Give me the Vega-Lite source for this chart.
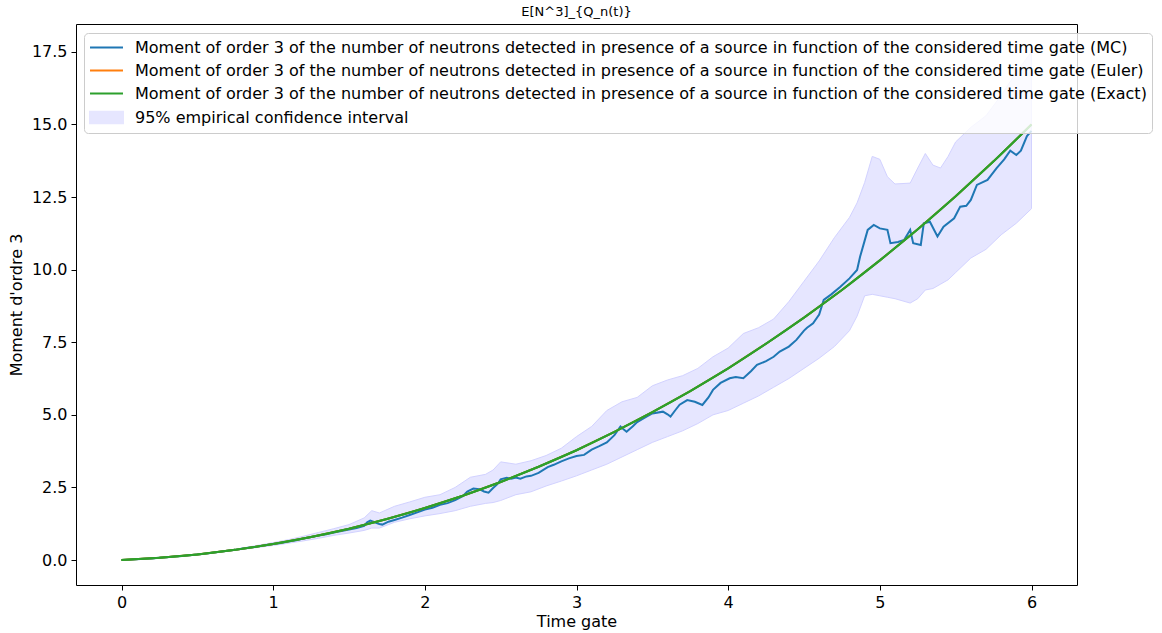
{
  "$schema": "https://vega.github.io/schema/vega-lite/v6.json",
  "autosize": {"type": "none"},
  "padding": {"left": 76, "top": 24, "right": 85, "bottom": 48},
  "width": 1001,
  "height": 561,
  "background": "white",
  "title": {"text": "E[N^3]_{Q_n(t)}", "font": "DejaVu Sans", "fontSize": 13, "fontWeight": "normal", "color": "black", "anchor": "middle", "frame": "group", "baseline": "alphabetic", "offset": -5},
  "config": {
    "font": "DejaVu Sans",
    "view": {"stroke": "black", "strokeWidth": 1},
    "axis": {"grid": false, "domain": false, "tickColor": "black", "tickSize": 5, "tickWidth": 1, "labelColor": "black", "labelFont": "DejaVu Sans", "labelFontSize": 16, "labelPadding": 4, "titleFont": "DejaVu Sans", "titleFontSize": 16, "titleFontWeight": "normal", "titleColor": "black"}
  },
  "datasets": {
    "lines": [
      {"t":0,"v":0,"s":"MC"},{"t":0.05,"v":0.012,"s":"MC"},{"t":0.1,"v":0.025,"s":"MC"},{"t":0.15,"v":0.04,"s":"MC"},{"t":0.2,"v":0.055,"s":"MC"},{"t":0.25,"v":0.075,"s":"MC"},{"t":0.3,"v":0.095,"s":"MC"},{"t":0.35,"v":0.118,"s":"MC"},{"t":0.4,"v":0.14,"s":"MC"},{"t":0.45,"v":0.165,"s":"MC"},{"t":0.5,"v":0.192,"s":"MC"},{"t":0.55,"v":0.22,"s":"MC"},{"t":0.6,"v":0.25,"s":"MC"},{"t":0.65,"v":0.285,"s":"MC"},{"t":0.7,"v":0.32,"s":"MC"},{"t":0.75,"v":0.35,"s":"MC"},{"t":0.8,"v":0.395,"s":"MC"},{"t":0.85,"v":0.43,"s":"MC"},{"t":0.9,"v":0.47,"s":"MC"},{"t":0.95,"v":0.51,"s":"MC"},{"t":1.0,"v":0.55,"s":"MC"},{"t":1.05,"v":0.59,"s":"MC"},{"t":1.1,"v":0.64,"s":"MC"},{"t":1.15,"v":0.68,"s":"MC"},{"t":1.2,"v":0.74,"s":"MC"},{"t":1.25,"v":0.79,"s":"MC"},{"t":1.3,"v":0.84,"s":"MC"},{"t":1.35,"v":0.89,"s":"MC"},{"t":1.4,"v":0.95,"s":"MC"},{"t":1.45,"v":1.0,"s":"MC"},{"t":1.5,"v":1.05,"s":"MC"},{"t":1.55,"v":1.1,"s":"MC"},{"t":1.6,"v":1.18,"s":"MC"},{"t":1.62,"v":1.3,"s":"MC"},{"t":1.64,"v":1.36,"s":"MC"},{"t":1.67,"v":1.3,"s":"MC"},{"t":1.7,"v":1.24,"s":"MC"},{"t":1.72,"v":1.22,"s":"MC"},{"t":1.76,"v":1.32,"s":"MC"},{"t":1.8,"v":1.38,"s":"MC"},{"t":1.85,"v":1.46,"s":"MC"},{"t":1.9,"v":1.55,"s":"MC"},{"t":1.95,"v":1.64,"s":"MC"},{"t":2.0,"v":1.74,"s":"MC"},{"t":2.05,"v":1.8,"s":"MC"},{"t":2.1,"v":1.9,"s":"MC"},{"t":2.15,"v":1.96,"s":"MC"},{"t":2.2,"v":2.06,"s":"MC"},{"t":2.25,"v":2.2,"s":"MC"},{"t":2.28,"v":2.36,"s":"MC"},{"t":2.32,"v":2.46,"s":"MC"},{"t":2.36,"v":2.44,"s":"MC"},{"t":2.39,"v":2.36,"s":"MC"},{"t":2.42,"v":2.32,"s":"MC"},{"t":2.45,"v":2.48,"s":"MC"},{"t":2.48,"v":2.62,"s":"MC"},{"t":2.5,"v":2.78,"s":"MC"},{"t":2.54,"v":2.83,"s":"MC"},{"t":2.57,"v":2.8,"s":"MC"},{"t":2.6,"v":2.84,"s":"MC"},{"t":2.63,"v":2.8,"s":"MC"},{"t":2.67,"v":2.88,"s":"MC"},{"t":2.7,"v":2.9,"s":"MC"},{"t":2.75,"v":3.0,"s":"MC"},{"t":2.81,"v":3.2,"s":"MC"},{"t":2.85,"v":3.28,"s":"MC"},{"t":2.9,"v":3.4,"s":"MC"},{"t":2.95,"v":3.5,"s":"MC"},{"t":3.0,"v":3.58,"s":"MC"},{"t":3.05,"v":3.62,"s":"MC"},{"t":3.1,"v":3.8,"s":"MC"},{"t":3.15,"v":3.92,"s":"MC"},{"t":3.2,"v":4.05,"s":"MC"},{"t":3.25,"v":4.3,"s":"MC"},{"t":3.29,"v":4.6,"s":"MC"},{"t":3.31,"v":4.5,"s":"MC"},{"t":3.33,"v":4.42,"s":"MC"},{"t":3.37,"v":4.6,"s":"MC"},{"t":3.4,"v":4.75,"s":"MC"},{"t":3.45,"v":4.9,"s":"MC"},{"t":3.5,"v":5.05,"s":"MC"},{"t":3.57,"v":5.11,"s":"MC"},{"t":3.6,"v":5.02,"s":"MC"},{"t":3.62,"v":4.94,"s":"MC"},{"t":3.65,"v":5.15,"s":"MC"},{"t":3.68,"v":5.35,"s":"MC"},{"t":3.73,"v":5.51,"s":"MC"},{"t":3.78,"v":5.45,"s":"MC"},{"t":3.83,"v":5.34,"s":"MC"},{"t":3.87,"v":5.6,"s":"MC"},{"t":3.9,"v":5.86,"s":"MC"},{"t":3.95,"v":6.1,"s":"MC"},{"t":4.01,"v":6.26,"s":"MC"},{"t":4.05,"v":6.3,"s":"MC"},{"t":4.1,"v":6.26,"s":"MC"},{"t":4.15,"v":6.5,"s":"MC"},{"t":4.19,"v":6.72,"s":"MC"},{"t":4.25,"v":6.85,"s":"MC"},{"t":4.3,"v":7.0,"s":"MC"},{"t":4.34,"v":7.18,"s":"MC"},{"t":4.4,"v":7.35,"s":"MC"},{"t":4.45,"v":7.58,"s":"MC"},{"t":4.5,"v":7.9,"s":"MC"},{"t":4.52,"v":8.0,"s":"MC"},{"t":4.56,"v":8.15,"s":"MC"},{"t":4.6,"v":8.45,"s":"MC"},{"t":4.63,"v":8.96,"s":"MC"},{"t":4.68,"v":9.15,"s":"MC"},{"t":4.74,"v":9.41,"s":"MC"},{"t":4.8,"v":9.7,"s":"MC"},{"t":4.85,"v":9.99,"s":"MC"},{"t":4.87,"v":10.45,"s":"MC"},{"t":4.9,"v":11.0,"s":"MC"},{"t":4.92,"v":11.37,"s":"MC"},{"t":4.96,"v":11.54,"s":"MC"},{"t":5.0,"v":11.42,"s":"MC"},{"t":5.05,"v":11.37,"s":"MC"},{"t":5.07,"v":10.91,"s":"MC"},{"t":5.12,"v":10.95,"s":"MC"},{"t":5.16,"v":11.02,"s":"MC"},{"t":5.2,"v":11.37,"s":"MC"},{"t":5.22,"v":10.91,"s":"MC"},{"t":5.27,"v":10.85,"s":"MC"},{"t":5.29,"v":11.6,"s":"MC"},{"t":5.33,"v":11.65,"s":"MC"},{"t":5.38,"v":11.14,"s":"MC"},{"t":5.42,"v":11.48,"s":"MC"},{"t":5.49,"v":11.77,"s":"MC"},{"t":5.53,"v":12.17,"s":"MC"},{"t":5.57,"v":12.2,"s":"MC"},{"t":5.6,"v":12.4,"s":"MC"},{"t":5.64,"v":12.92,"s":"MC"},{"t":5.71,"v":13.09,"s":"MC"},{"t":5.77,"v":13.5,"s":"MC"},{"t":5.82,"v":13.8,"s":"MC"},{"t":5.86,"v":14.1,"s":"MC"},{"t":5.9,"v":13.95,"s":"MC"},{"t":5.93,"v":14.1,"s":"MC"},{"t":5.97,"v":14.6,"s":"MC"},{"t":6.0,"v":14.78,"s":"MC"},
      {"t":0,"v":0,"s":"Euler"},{"t":0.25,"v":0.0765,"s":"Euler"},{"t":0.5,"v":0.193,"s":"Euler"},{"t":0.75,"v":0.35,"s":"Euler"},{"t":1,"v":0.55,"s":"Euler"},{"t":1.25,"v":0.792,"s":"Euler"},{"t":1.5,"v":1.079,"s":"Euler"},{"t":1.75,"v":1.41,"s":"Euler"},{"t":2,"v":1.79,"s":"Euler"},{"t":2.25,"v":2.214,"s":"Euler"},{"t":2.5,"v":2.689,"s":"Euler"},{"t":2.75,"v":3.212,"s":"Euler"},{"t":3,"v":3.78,"s":"Euler"},{"t":3.25,"v":4.41,"s":"Euler"},{"t":3.5,"v":5.09,"s":"Euler"},{"t":3.75,"v":5.82,"s":"Euler"},{"t":4,"v":6.6,"s":"Euler"},{"t":4.25,"v":7.45,"s":"Euler"},{"t":4.5,"v":8.35,"s":"Euler"},{"t":4.75,"v":9.3,"s":"Euler"},{"t":5,"v":10.32,"s":"Euler"},{"t":5.25,"v":11.39,"s":"Euler"},{"t":5.5,"v":12.53,"s":"Euler"},{"t":5.75,"v":13.73,"s":"Euler"},{"t":6,"v":15.0,"s":"Euler"},
      {"t":0,"v":0,"s":"Exact"},{"t":0.25,"v":0.0765,"s":"Exact"},{"t":0.5,"v":0.193,"s":"Exact"},{"t":0.75,"v":0.35,"s":"Exact"},{"t":1,"v":0.55,"s":"Exact"},{"t":1.25,"v":0.792,"s":"Exact"},{"t":1.5,"v":1.079,"s":"Exact"},{"t":1.75,"v":1.41,"s":"Exact"},{"t":2,"v":1.79,"s":"Exact"},{"t":2.25,"v":2.214,"s":"Exact"},{"t":2.5,"v":2.689,"s":"Exact"},{"t":2.75,"v":3.212,"s":"Exact"},{"t":3,"v":3.78,"s":"Exact"},{"t":3.25,"v":4.41,"s":"Exact"},{"t":3.5,"v":5.09,"s":"Exact"},{"t":3.75,"v":5.82,"s":"Exact"},{"t":4,"v":6.6,"s":"Exact"},{"t":4.25,"v":7.45,"s":"Exact"},{"t":4.5,"v":8.35,"s":"Exact"},{"t":4.75,"v":9.3,"s":"Exact"},{"t":5,"v":10.32,"s":"Exact"},{"t":5.25,"v":11.39,"s":"Exact"},{"t":5.5,"v":12.53,"s":"Exact"},{"t":5.75,"v":13.73,"s":"Exact"},{"t":6,"v":15.0,"s":"Exact"}
    ],
    "band": [
      {"t":0,"lo":0,"hi":0},{"t":0.25,"lo":0.074,"hi":0.079},{"t":0.5,"lo":0.185,"hi":0.2},{"t":0.75,"lo":0.33,"hi":0.37},{"t":1.0,"lo":0.5,"hi":0.6},{"t":1.1,"lo":0.58,"hi":0.7},{"t":1.2,"lo":0.66,"hi":0.82},{"t":1.3,"lo":0.75,"hi":0.95},{"t":1.4,"lo":0.85,"hi":1.08},{"t":1.5,"lo":0.93,"hi":1.22},{"t":1.6,"lo":1.02,"hi":1.45},{"t":1.65,"lo":1.1,"hi":1.7},{"t":1.7,"lo":1.1,"hi":1.62},{"t":1.8,"lo":1.3,"hi":1.85},{"t":1.9,"lo":1.42,"hi":2.0},{"t":2.0,"lo":1.52,"hi":2.16},{"t":2.1,"lo":1.6,"hi":2.25},{"t":2.2,"lo":1.7,"hi":2.5},{"t":2.3,"lo":1.85,"hi":2.85},{"t":2.4,"lo":1.95,"hi":2.95},{"t":2.45,"lo":1.98,"hi":3.1},{"t":2.5,"lo":2.05,"hi":3.38},{"t":2.6,"lo":2.25,"hi":3.3},{"t":2.7,"lo":2.35,"hi":3.42},{"t":2.8,"lo":2.55,"hi":3.6},{"t":2.9,"lo":2.72,"hi":3.85},{"t":3.0,"lo":2.9,"hi":4.25},{"t":3.1,"lo":3.1,"hi":4.6},{"t":3.2,"lo":3.3,"hi":5.15},{"t":3.3,"lo":3.55,"hi":5.45},{"t":3.4,"lo":3.8,"hi":5.6},{"t":3.5,"lo":4.05,"hi":6.0},{"t":3.6,"lo":4.25,"hi":6.2},{"t":3.7,"lo":4.45,"hi":6.35},{"t":3.8,"lo":4.7,"hi":6.6},{"t":3.9,"lo":5.0,"hi":7.0},{"t":4.0,"lo":5.15,"hi":7.3},{"t":4.1,"lo":5.4,"hi":7.8},{"t":4.2,"lo":5.65,"hi":8.0},{"t":4.3,"lo":5.95,"hi":8.3},{"t":4.4,"lo":6.25,"hi":8.9},{"t":4.5,"lo":6.6,"hi":9.6},{"t":4.6,"lo":6.95,"hi":10.3},{"t":4.7,"lo":7.35,"hi":11.1},{"t":4.8,"lo":7.9,"hi":11.8},{"t":4.85,"lo":8.4,"hi":12.3},{"t":4.9,"lo":9.1,"hi":13.0},{"t":4.95,"lo":9.15,"hi":13.9},{"t":5.0,"lo":9.1,"hi":13.8},{"t":5.05,"lo":9.05,"hi":13.2},{"t":5.1,"lo":9.0,"hi":12.95},{"t":5.2,"lo":8.85,"hi":12.98},{"t":5.25,"lo":9.0,"hi":13.5},{"t":5.3,"lo":9.3,"hi":14.0},{"t":5.35,"lo":9.35,"hi":13.6},{"t":5.4,"lo":9.5,"hi":13.5},{"t":5.45,"lo":9.65,"hi":13.9},{"t":5.5,"lo":9.9,"hi":14.4},{"t":5.6,"lo":10.4,"hi":14.9},{"t":5.7,"lo":10.7,"hi":15.3},{"t":5.8,"lo":11.2,"hi":16.0},{"t":5.9,"lo":11.6,"hi":16.8},{"t":6.0,"lo":12.1,"hi":17.5}
    ]
  },
  "layer": [
    {
      "data": {"name": "band"},
      "mark": {"type": "area", "fillOpacity": 1, "stroke": "#d2d2ff", "strokeWidth": 1},
      "encoding": {
        "x": {"field": "t", "type": "quantitative"},
        "y": {"field": "lo", "type": "quantitative"},
        "y2": {"field": "hi"},
        "color": {"datum": "CI"}
      }
    },
    {
      "data": {"name": "lines"},
      "mark": {"type": "line", "strokeWidth": 2, "interpolate": "linear"},
      "encoding": {
        "x": {"field": "t", "type": "quantitative", "scale": {"domain": [-0.3, 6.3], "nice": false, "zero": false},
              "axis": {"values": [0,1,2,3,4,5,6], "format": "d", "title": "Time gate", "titlePadding": 3}},
        "y": {"field": "v", "type": "quantitative", "scale": {"domain": [-0.86, 18.46], "nice": false, "zero": false},
              "axis": {"values": [0,2.5,5,7.5,10,12.5,15,17.5], "format": ".1f", "title": "Moment d'ordre 3", "titlePadding": 7}},
        "color": {
          "field": "s", "type": "nominal",
          "scale": {"domain": ["MC", "Euler", "Exact", "CI"], "range": ["#1f77b4", "#ff7f0e", "#2ca02c", "#e6e6ff"]},
          "legend": {
            "title": null,
            "orient": "none",
            "legendX": 8,
            "legendY": 9,
            "padding": 5,
            "fillColor": "rgba(255,255,255,0.8)",
            "strokeColor": "#cccccc",
            "cornerRadius": 4,
            "labelFont": "DejaVu Sans",
            "labelFontSize": 16,
            "labelColor": "black",
            "labelLimit": 2000,
            "labelOffset": 19,
            "symbolOffset": 8,
            "symbolSize": 272,
            "rowPadding": 5,
            "labelExpr": "datum.value == 'CI' ? '95% empirical confidence interval' : 'Moment of order 3 of the number of neutrons detected in presence of a source in function of the considered time gate (' + datum.value + ')'",
            "encode": {
              "symbols": {
                "update": {
                  "shape": {"signal": "datum.value == 'CI' ? 'M-2,-0.7H2V0.7H-2Z' : 'M-2,0H2'"},
                  "fill": {"signal": "datum.value == 'CI' ? '#e6e6ff' : 'transparent'"},
                  "stroke": {"signal": "datum.value == 'CI' ? '#e6e6ff' : (datum.value == 'MC' ? '#1f77b4' : (datum.value == 'Euler' ? '#ff7f0e' : '#2ca02c'))"},
                  "strokeWidth": {"value": 2},
                  "opacity": {"value": 1},
                  "fillOpacity": {"value": 1},
                  "strokeOpacity": {"value": 1}
                }
              }
            }
          }
        }
      }
    },
    {
      "data": {"name": "lines"},
      "transform": [{"filter": "datum.s == 'Exact'"}],
      "mark": {"type": "line", "strokeWidth": 2, "interpolate": "monotone", "color": "#2ca02c"},
      "encoding": {
        "x": {"field": "t", "type": "quantitative"},
        "y": {"field": "v", "type": "quantitative"}
      }
    }
  ]
}
